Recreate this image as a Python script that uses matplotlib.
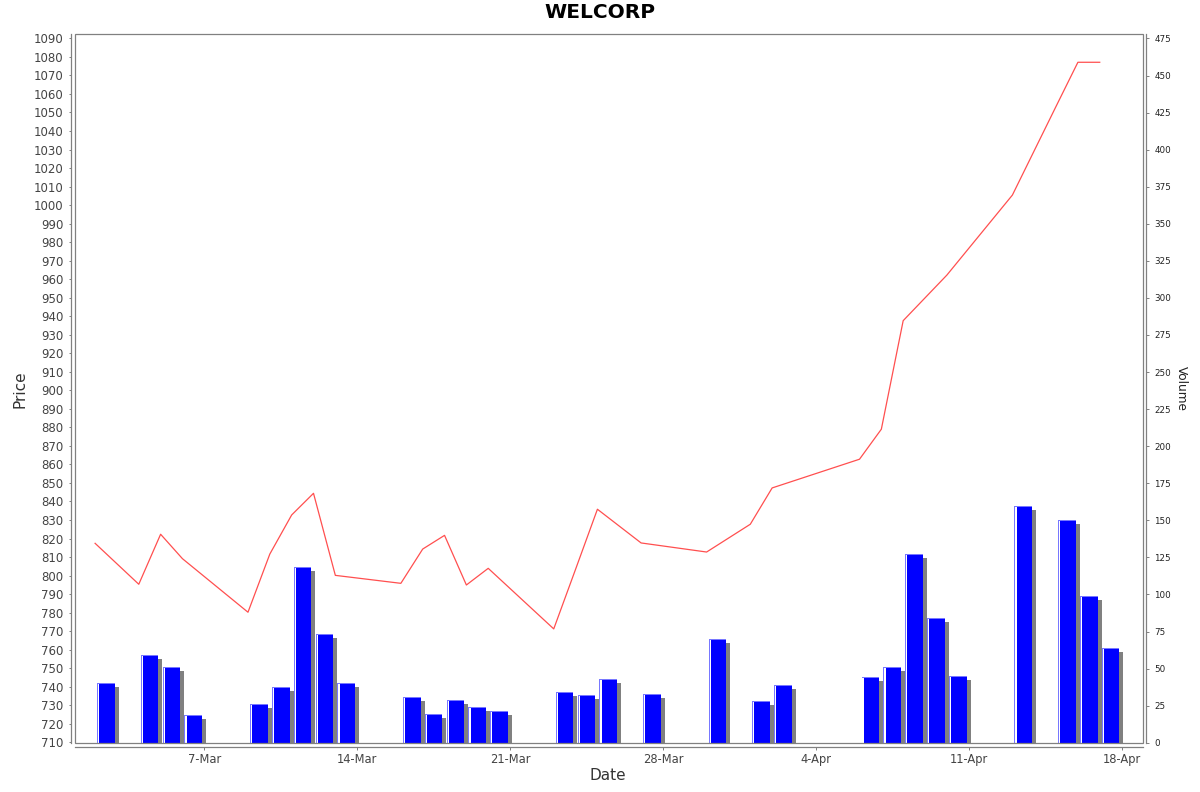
import matplotlib
matplotlib.use('Agg')
import matplotlib.pyplot as plt
import matplotlib.dates as mdates
from matplotlib.patches import Rectangle
import datetime as dt

# ---- data ----
dates = ['2022-03-02', '2022-03-04', '2022-03-05', '2022-03-06', '2022-03-09',
         '2022-03-10', '2022-03-11', '2022-03-12', '2022-03-13', '2022-03-16',
         '2022-03-17', '2022-03-18', '2022-03-19', '2022-03-20', '2022-03-23',
         '2022-03-24', '2022-03-25', '2022-03-27', '2022-03-30', '2022-04-01',
         '2022-04-02', '2022-04-06', '2022-04-07', '2022-04-08', '2022-04-09',
         '2022-04-10', '2022-04-13', '2022-04-15', '2022-04-16', '2022-04-17']
price = [817.4, 795.3, 822.3, 809.1, 780.2,
         811.6, 832.7, 844.4, 800.1, 795.8,
         814.3, 821.7, 794.9, 803.9, 771.2,
         803.4, 835.8, 817.6, 812.7, 827.7,
         847.3, 862.8, 879.0, 937.6, 949.9,
         962.2, 1005.4, 1053.3, 1077.1, 1077.1]
volume = [40.1, 59.1, 50.9, 18.9, 25.9,
          37.8, 118.3, 73.1, 40.1, 31.0,
          19.2, 29.0, 24.1, 21.2, 34.2,
          32.2, 43.0, 33.0, 69.9, 28.1,
          38.9, 44.1, 51.1, 127.1, 84.1,
          45.0, 159.4, 150.2, 99.1, 64.1]
tick_dates = ['2022-03-07', '2022-03-14', '2022-03-21', '2022-03-28',
              '2022-04-04', '2022-04-11', '2022-04-18']
tick_labels = ['7-Mar', '14-Mar', '21-Mar', '28-Mar', '4-Apr', '11-Apr', '18-Apr']
price_ticks = list(range(710, 1091, 10))
volume_ticks = list(range(0, 476, 25))
title = 'WELCORP'

# ---- helpers ----
def to_num(s):
    return mdates.date2num(dt.datetime.strptime(s, '%Y-%m-%d'))

xd = [to_num(s) for s in dates]
xt = [to_num(s) for s in tick_dates]
W, H = 1200, 792
fig = plt.figure(figsize=(W / 100, H / 100), dpi=100)
fig.patch.set_facecolor('white')
L, R, T, B = 75.3, 1142.7, 34.3, 743.0
ax2 = fig.add_axes([L / W, (H - B) / H, (R - L) / W, (B - T) / H])
ax = ax2.twinx()

grey = '#808080'
px_day = 1 / 21.84          # one pixel in days
vpx = 1 / 1.4827            # one pixel in volume units

# ---- volume bars (right axis) ----
bl = [x + 2 * px_day for x in xd]
bw = 17.7 * px_day
ax2.bar([x + 4 * px_day for x in bl], [v - 4 * vpx for v in volume], width=bw,
        align='edge', color=grey, linewidth=0, zorder=1)
ax2.bar(bl, volume, width=bw, align='edge', color='#7878ff', linewidth=0, zorder=2)
ax2.bar([x + 1 * px_day for x in bl], [v - 1 * vpx for v in volume], width=bw - 1 * px_day,
        align='edge', color='white', linewidth=0, zorder=3)
ax2.bar([x + 2.2 * px_day for x in bl], [v - 1 * vpx for v in volume], width=bw - 2.2 * px_day,
        align='edge', color='#0000ff', linewidth=0, zorder=4)

# ---- price line (left axis) ----
ax.plot(xd, price, color='#ff4f4f', linewidth=0.9, zorder=5)

# axis ranges
x0 = xt[0] - (204.3 - L) * px_day
x1 = xt[0] + (R - 204.3) * px_day
ax2.set_xlim(x0, x1)
ax.set_ylim(709.6, 1092.2)
ax2.set_ylim(-0.2, 477.8)

# price axis on the left, volume on the right
ax.yaxis.set_label_position('left')
ax.yaxis.tick_left()
ax2.yaxis.set_label_position('right')
ax2.yaxis.tick_right()
ax.set_zorder(ax2.get_zorder() + 1)
ax.patch.set_visible(False)

ax.set_yticks(price_ticks)
ax.set_yticklabels([str(p) for p in price_ticks])
ax2.set_yticks(volume_ticks)
ax2.set_yticklabels([str(v) for v in volume_ticks])
ax2.set_xticks(xt)
ax2.set_xticklabels(tick_labels)

for a in (ax, ax2):
    for s in a.spines.values():
        s.set_visible(False)

# axis lines offset from the plot frame
ax.spines['left'].set_visible(True)
ax.spines['left'].set_position(('outward', 3.3))
ax.spines['left'].set_color(grey)
ax.spines['left'].set_linewidth(0.9)
ax2.spines['right'].set_visible(True)
ax2.spines['right'].set_position(('outward', 2.2))
ax2.spines['right'].set_color(grey)
ax2.spines['right'].set_linewidth(0.9)
ax2.spines['bottom'].set_visible(True)
ax2.spines['bottom'].set_position(('outward', 3.1))
ax2.spines['bottom'].set_color(grey)
ax2.spines['bottom'].set_linewidth(0.9)

ax2.add_patch(Rectangle((0, 0), 1, 1, transform=ax2.transAxes, fill=False,
                        edgecolor=grey, linewidth=0.9, clip_on=False, zorder=10))

ax.tick_params(axis='y', direction='out', length=1.8, width=0.7, color=grey,
               labelsize=8.5, labelcolor='#444444', pad=3.5)
ax2.tick_params(axis='y', direction='out', length=1.8, width=0.7, color=grey,
                labelsize=6.3, labelcolor='#222222', pad=4.5)
ax2.tick_params(axis='x', direction='out', length=1.8, width=0.7, color=grey,
                labelsize=8.3, labelcolor='#444444', pad=2)

fig.text(0.5, 1 - 13 / H, title, ha='center', va='center', fontsize=14.5,
         fontweight='bold', color='black')
fig.text(20 / W, 1 - 389 / H, 'Price', rotation=90, ha='center', va='center',
         fontsize=11, color='#333333')
fig.text(608 / W, 1 - 776 / H, 'Date', ha='center', va='center',
         fontsize=11, color='#333333')
fig.text(1181 / W, 1 - 388 / H, 'Volume', rotation=-90, ha='center', va='center',
         fontsize=8.7, color='#222222')

fig.savefig('out.png', dpi=100, facecolor='white')
